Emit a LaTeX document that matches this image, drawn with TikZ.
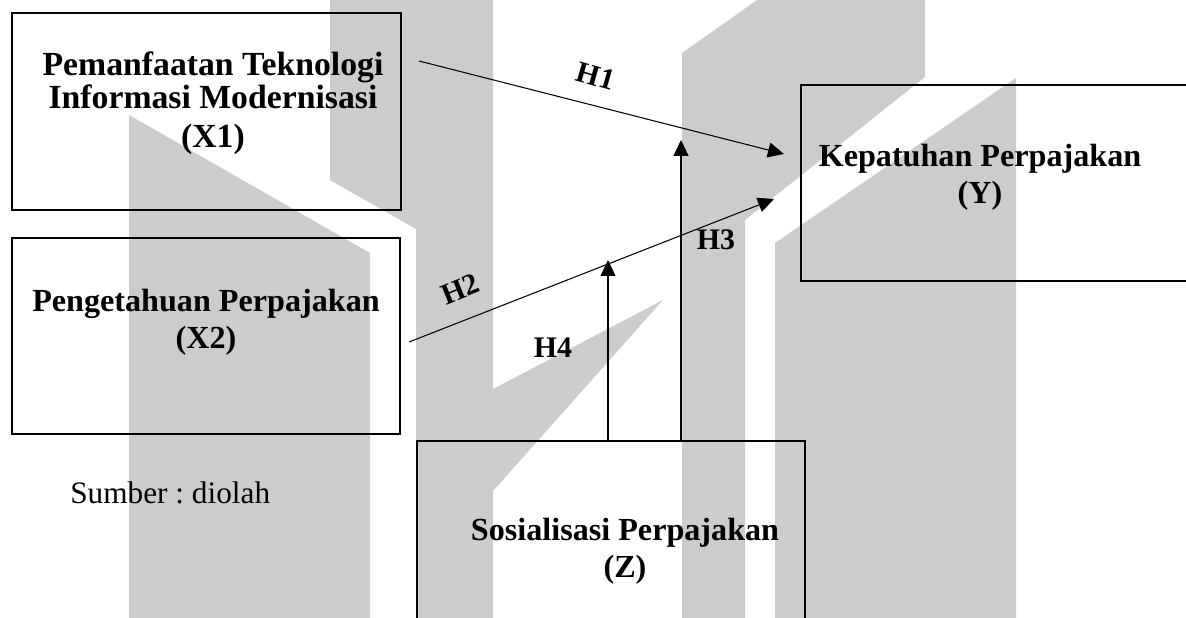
\documentclass[tikz,border=0pt]{standalone}
\usepackage{fontspec}
\setmainfont{Liberation Serif}
\usetikzlibrary{arrows.meta,calc,fit}
\definecolor{markgray}{RGB}{204,204,204}
\tikzset{
  varbox/.style={draw, line width=1.2pt, inner sep=0pt},
  varname/.style={font=\bfseries\fontsize{18.3}{18.8}\selectfont, align=center, inner sep=0pt},
  hyplabel/.style={font=\bfseries\fontsize{17}{18.8}\selectfont, inner sep=0pt},
  hyparrow/.style={line width=0.6pt, -{Triangle[length=0.32cm,width=0.3cm]}},
}
\begin{document}
\frenchspacing
\begin{tikzpicture}[x=0.02cm, y=-0.02cm]
        \useasboundingbox (0,0) rectangle (1186,618);
        \clip (0,0) rectangle (1186,618);

        % watermark in the background
        \fill[markgray] (129,115) -- (370,253) -- (370,620) -- (129,620) -- cycle;
        \fill[markgray] (330,-2) -- (493,-2) -- (493,389) -- (663,300) -- (493,491) -- (493,620)
                -- (416,620) -- (416,229) -- (330,180) -- cycle;
        \fill[markgray] (682,53) -- (760,-2) -- (925,-2) -- (925,77) -- (745,220) -- (745,620)
                -- (682,620) -- cycle;
        \fill[markgray] (775,243) -- (1016,78) -- (1016,620) -- (775,620) -- cycle;

        \node[varbox, fit={(12,13) (401,210)}] (x1) {};
        \node[varbox, fit={(12,238) (400,434)}] (x2) {};
        \node[varbox, fit={(801,85) (1200,281)}] (ybox) {};
        \node[varbox, fit={(417,441) (805,640)}] (zbox) {};

        \node[varname, font=\bfseries\fontsize{19.2}{18.8}\selectfont] (x1t) at (213,103) {Pemanfaatan Teknologi\\Informasi Modernisasi\\[1.2mm](X1)};
        \node[varname] (x2t) at (206,322) {Pengetahuan Perpajakan\\[0.8mm](X2)};
        \node[varname] (yt) at (980,177) {Kepatuhan Perpajakan\\[0.8mm](Y)};
        \node[varname] (zt) at (625,551) {Sosialisasi Perpajakan\\[0.8mm](Z)};

        \node[font=\fontsize{17.8}{18.8}\selectfont, anchor=base west, inner sep=0pt] (src) at (70,503) {Sumber : diolah};

        \draw[hyparrow] ($(x1.east)+(17,-50.5)$) -- ($(ybox.west)+(-16,-29)$);
        \draw[hyparrow] ($(x2.east)+(8,6)$) -- ($(ybox.west)+(-26,16)$);

        \coordinate (h3tip) at (681,140);
        \coordinate (h4tip) at (608,260);
        \draw[hyparrow] (zbox.north -| h3tip) -- (h3tip);
        \draw[hyparrow] (zbox.north -| h4tip) -- (h4tip);

        \node[hyplabel, rotate=-16] (h1) at (596,76) {H1};
        \node[hyplabel, rotate=22] (h2) at (460,289) {H2};
        \node[hyplabel, anchor=base] (h3) at (716,250) {H3};
        \node[hyplabel, anchor=base] (h4) at (553,357) {H4};
\end{tikzpicture}
\end{document}
